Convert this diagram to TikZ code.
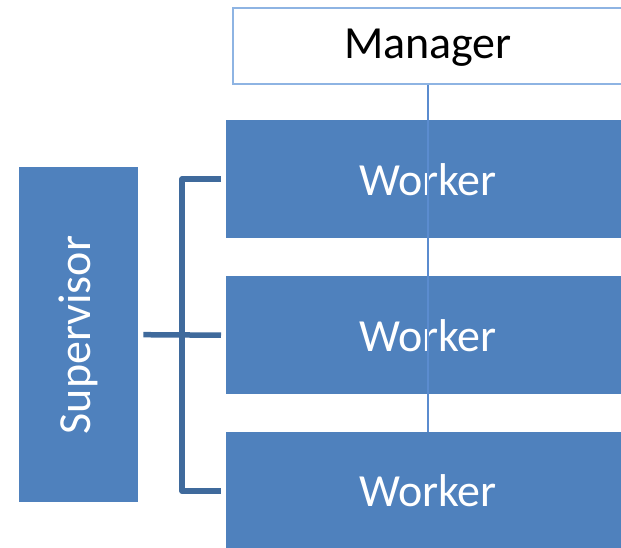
\documentclass[tikz,border=0pt]{standalone}
\usepackage{fontspec}
\setmainfont{Carlito}
\definecolor{wfill}{HTML}{4F81BD}
\definecolor{mborder}{HTML}{8EB4E3}
\definecolor{brk}{HTML}{3F6A9C}
\definecolor{vline}{HTML}{5B8CCF}
\begin{document}
\begin{tikzpicture}[x=1pt,y=-1pt,
  box/.style={draw=none,fill=wfill,text=white,inner sep=0pt,font=\fontsize{46}{50}\selectfont},
  brace/.style={draw=brk,line width=5.5pt,line join=round}]
\useasboundingbox (0,0) rectangle (621,548);
\begin{scope}
\clip (0,0) rectangle (621,548);
% manager
\node[draw=mborder,line width=1.5pt,fill=white,minimum width=400pt,minimum height=76pt,anchor=north west,inner sep=0pt] (mgrbox) at (232,7.5) {};
\node[font=\fontsize{46}{50}\selectfont] (mgr) at (428,48) {Manager};
% workers
\node[box,minimum width=400pt,minimum height=118pt,anchor=north west] (w1box) at (226,120) {};
\node[box,minimum width=400pt,minimum height=118pt,anchor=north west] (w2box) at (226,276) {};
\node[box,minimum width=400pt,minimum height=118pt,anchor=north west] (w3box) at (226,432) {};
\node[box] (w1) at (428,180) {Worker};
\node[box] (w2) at (428,336) {Worker};
\node[box] (w3) at (428,491) {Worker};
% supervisor
\node[box,minimum width=119pt,minimum height=335pt,anchor=north west] (supbox) at (19,167) {};
\node[box,rotate=90] (sup) at (78.5,335) {Supervisor};
% bracket
\coordinate (spine) at (182,335);
\draw[brace] ([xshift=5pt]supbox.east) -- ([xshift=-5pt]w2box.west);
\draw[brace] ([xshift=-5pt]w1box.west) -| (spine |- w1box.west) -- (spine |- w3box.west) -- ([xshift=-5pt]w3box.west);
% vertical line
\draw[vline,line width=1.2pt] (mgrbox.south -| mgr) -- (w3box.north -| mgr);
\end{scope}
\end{tikzpicture}
\end{document}
